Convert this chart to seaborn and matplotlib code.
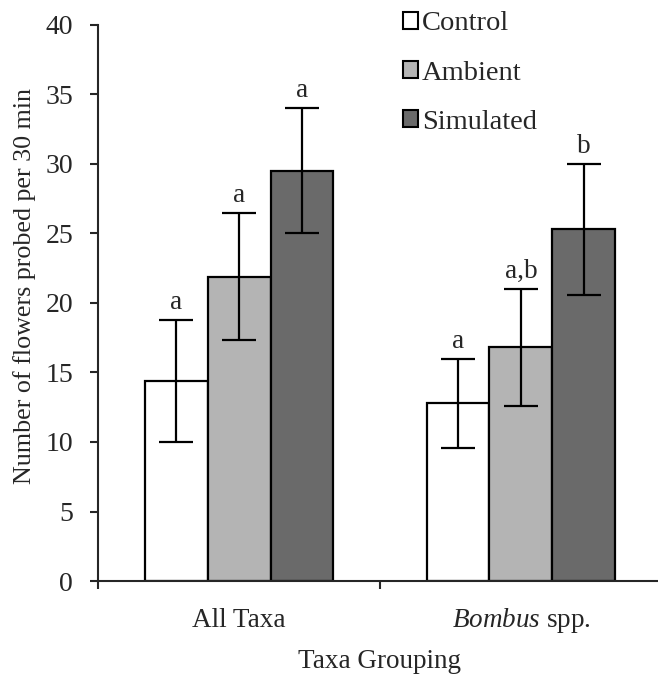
import numpy as np
import pandas as pd
import matplotlib
matplotlib.use("Agg")
import matplotlib.pyplot as plt
import seaborn as sns
from matplotlib.patches import Patch

# values
groups = ["All Taxa", "Bombus spp."]
group_labels = ["All Taxa", "$\\mathit{Bombus}$ spp."]
treatments = ["Control", "Ambient", "Simulated"]
means = {"Control": [14.4, 12.8], "Ambient": [21.9, 16.8], "Simulated": [29.5, 25.3]}
errs = {"Control": [4.4, 3.2], "Ambient": [4.55, 4.2], "Simulated": [4.5, 4.7]}
letters = {"Control": ["a", "a"], "Ambient": ["a", "a,b"], "Simulated": ["a", "b"]}
colors = ["#ffffff", "#b4b4b4", "#6a6a6a"]

rows = []
for t in treatments:
    for g, m, e in zip(groups, means[t], errs[t]):
        rows.append({"group": g, "treatment": t, "mean": m, "err": e})
df = pd.DataFrame(rows)

sns.set_style("ticks")
plt.rcParams["font.family"] = ["Liberation Serif", "DejaVu Serif"]
plt.rcParams["mathtext.fontset"] = "custom"
plt.rcParams["mathtext.rm"] = "Liberation Serif"
plt.rcParams["mathtext.it"] = "Liberation Serif:italic"

fs = 19.5
fig = plt.figure(figsize=(6.58, 6.79), dpi=100)
ax = fig.add_axes([0.149, 0.1443, 0.857, 0.819])

sns.barplot(data=df, x="group", y="mean", hue="treatment", order=groups,
            hue_order=treatments, palette=colors, errorbar=None, width=0.67,
            gap=0, edgecolor="black", linewidth=1.6, legend=False, ax=ax)

# error bars and letters placed on seaborn's own bar positions
bars = ax.patches[:len(df)]
for bar, (_, r) in zip(bars, df.iterrows()):
    x = bar.get_x() + bar.get_width() / 2
    ax.errorbar(x, r["mean"], yerr=r["err"], color="black", capsize=12,
                capthick=1.6, elinewidth=1.6, fmt="none")
    lab = letters[r["treatment"]][groups.index(r["group"])]
    ax.text(x, r["mean"] + r["err"] + 0.35, lab, ha="center", va="bottom", fontsize=fs)

ax.set_ylim(0, 40)
ax.set_xlim(-0.5, 1.5)
ax.set_yticks(np.arange(0, 41, 5))
ax.set_xticks([0, 1])
ax.set_xticklabels(group_labels)
ax.set_xticks([-0.5, 0.5, 1.5], minor=True)
ax.tick_params(axis="x", which="major", length=0, pad=33, labelsize=fs)
ax.tick_params(axis="x", which="minor", length=6, width=1.5, direction="out")
ax.tick_params(axis="y", length=6, width=1.5, labelsize=20, pad=12)
plt.setp(ax.get_xticklabels(), va="baseline")
for s in ["left", "bottom"]:
    ax.spines[s].set_linewidth(1.5)
sns.despine(ax=ax)
ax.set_xlabel("Taxa Grouping", fontsize=fs, labelpad=10)
ax.set_ylabel("Number of flowers probed per 30 min", fontsize=18.7)
ax.yaxis.set_label_coords(-0.11, 0.531)

handles = [Patch(facecolor=c, edgecolor="black", linewidth=1.5) for c in colors]
fig.legend(handles, treatments, loc="upper left", bbox_to_anchor=(0.573, 1.021),
           frameon=False, fontsize=20.5, handlelength=0.53, handleheight=0.53,
           handletextpad=0.14, labelspacing=0.85)

fig.savefig("out.png", dpi=100)
